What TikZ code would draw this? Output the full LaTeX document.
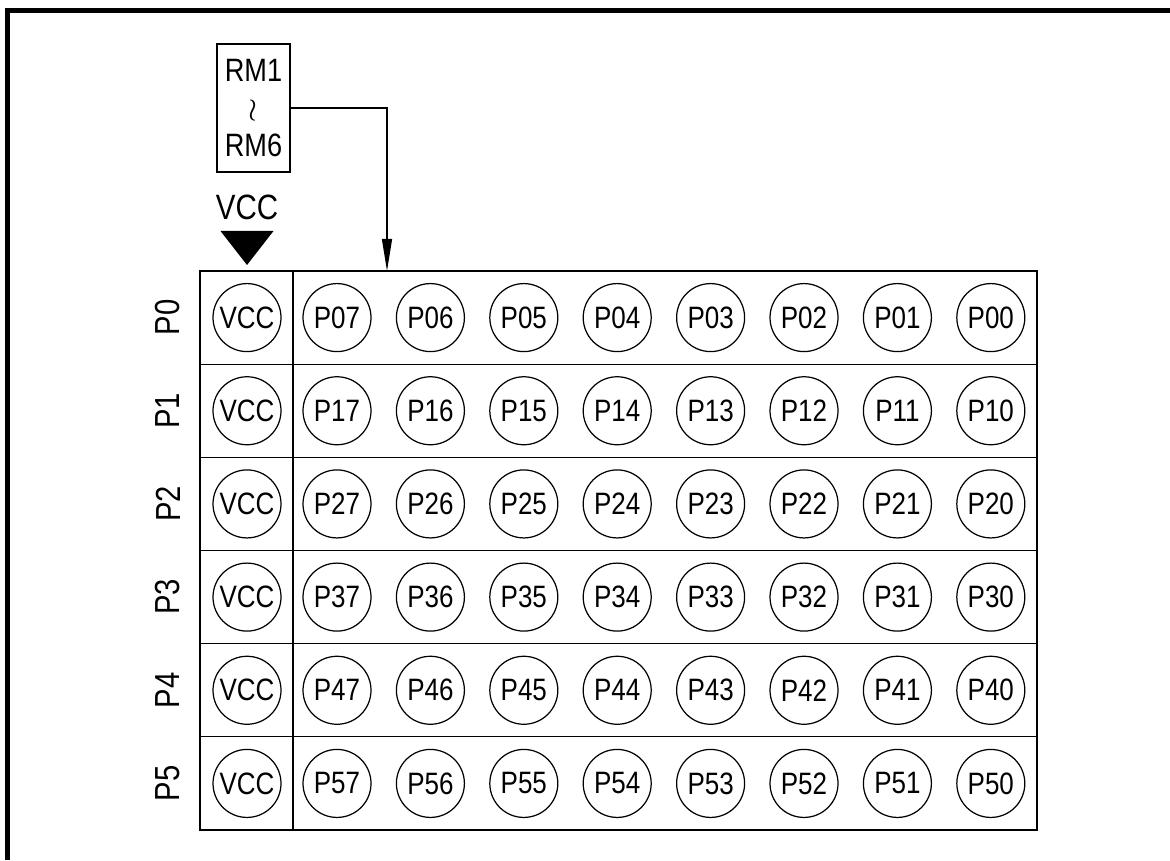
\documentclass[tikz,border=0pt]{standalone}
\usepackage{fontspec}
\setmainfont{Liberation Sans}[FakeStretch=0.84]
\usetikzlibrary{arrows.meta, positioning}

\begin{document}
\begin{tikzpicture}[
  pin/.style={draw, circle, minimum size=0.68cm, inner sep=0pt,
              line width=0.35pt, font=\fontsize{8.8}{10}\selectfont},
  rowlbl/.style={rotate=90, font=\fontsize{9.9}{12}\selectfont, inner sep=0pt},
  rmbox/.style={draw, line width=0.35pt, minimum width=0.73cm,
                minimum height=1.28cm, inner sep=0pt, align=center,
                font=\fontsize{9.2}{10.6}\selectfont},
  grid/.style={line width=0.35pt},
  arr/.style={-{Triangle[length=0.32cm, width=0.1cm]}, line width=0.35pt},
]
\useasboundingbox (0,0) rectangle (11.7,8.6);

% ---- Sheet border ----------------------------------------------------------
\draw[line width=0.05cm] (0.075,0) -- (0.075,8.495) -- (11.7,8.495);

% ---- Resistor block --------------------------------------------------------
\node[rmbox] (rm) at (2.535, 7.52) {RM1\\$\wr$\\RM6};

% ---- Supply symbol ---------------------------------------------------------
\node[font=\fontsize{10}{12}\selectfont, inner sep=0pt] (vcclbl) at (2.47, 6.53) {VCC};
\fill (2.205,6.29) -- (2.735,6.29) -- (2.47,5.95) -- cycle;

% ---- Port matrix -----------------------------------------------------------
\draw[grid] (2.00,0.30) rectangle (10.37,5.89);
\draw[grid] (2.93,0.30) -- (2.93,5.89);
\foreach \r in {1,...,5}
  \draw[grid] (2.00,{5.89-0.9317*\r}) -- (10.37,{5.89-0.9317*\r});

\foreach \r in {0,...,5} {
  \node[rowlbl] (port\r) at (1.68,{5.89-0.9317*(\r+0.5)}) {P\r};
  \node[pin] (vcc\r) at (2.47,{5.89-0.9317*(\r+0.5)}) {VCC};
  \foreach \c in {0,...,7} {
    \pgfmathtruncatemacro\b{7-\c}
    \node[pin] (p\r\b) at ({3.37+0.934*\c},{5.89-0.9317*(\r+0.5)}) {P\r\b};
  }
}

% ---- Feed into matrix ------------------------------------------------------
\coordinate (drop) at (3.87,5.89);
\draw[arr] (rm.east) -| (drop);

\end{tikzpicture}
\end{document}
